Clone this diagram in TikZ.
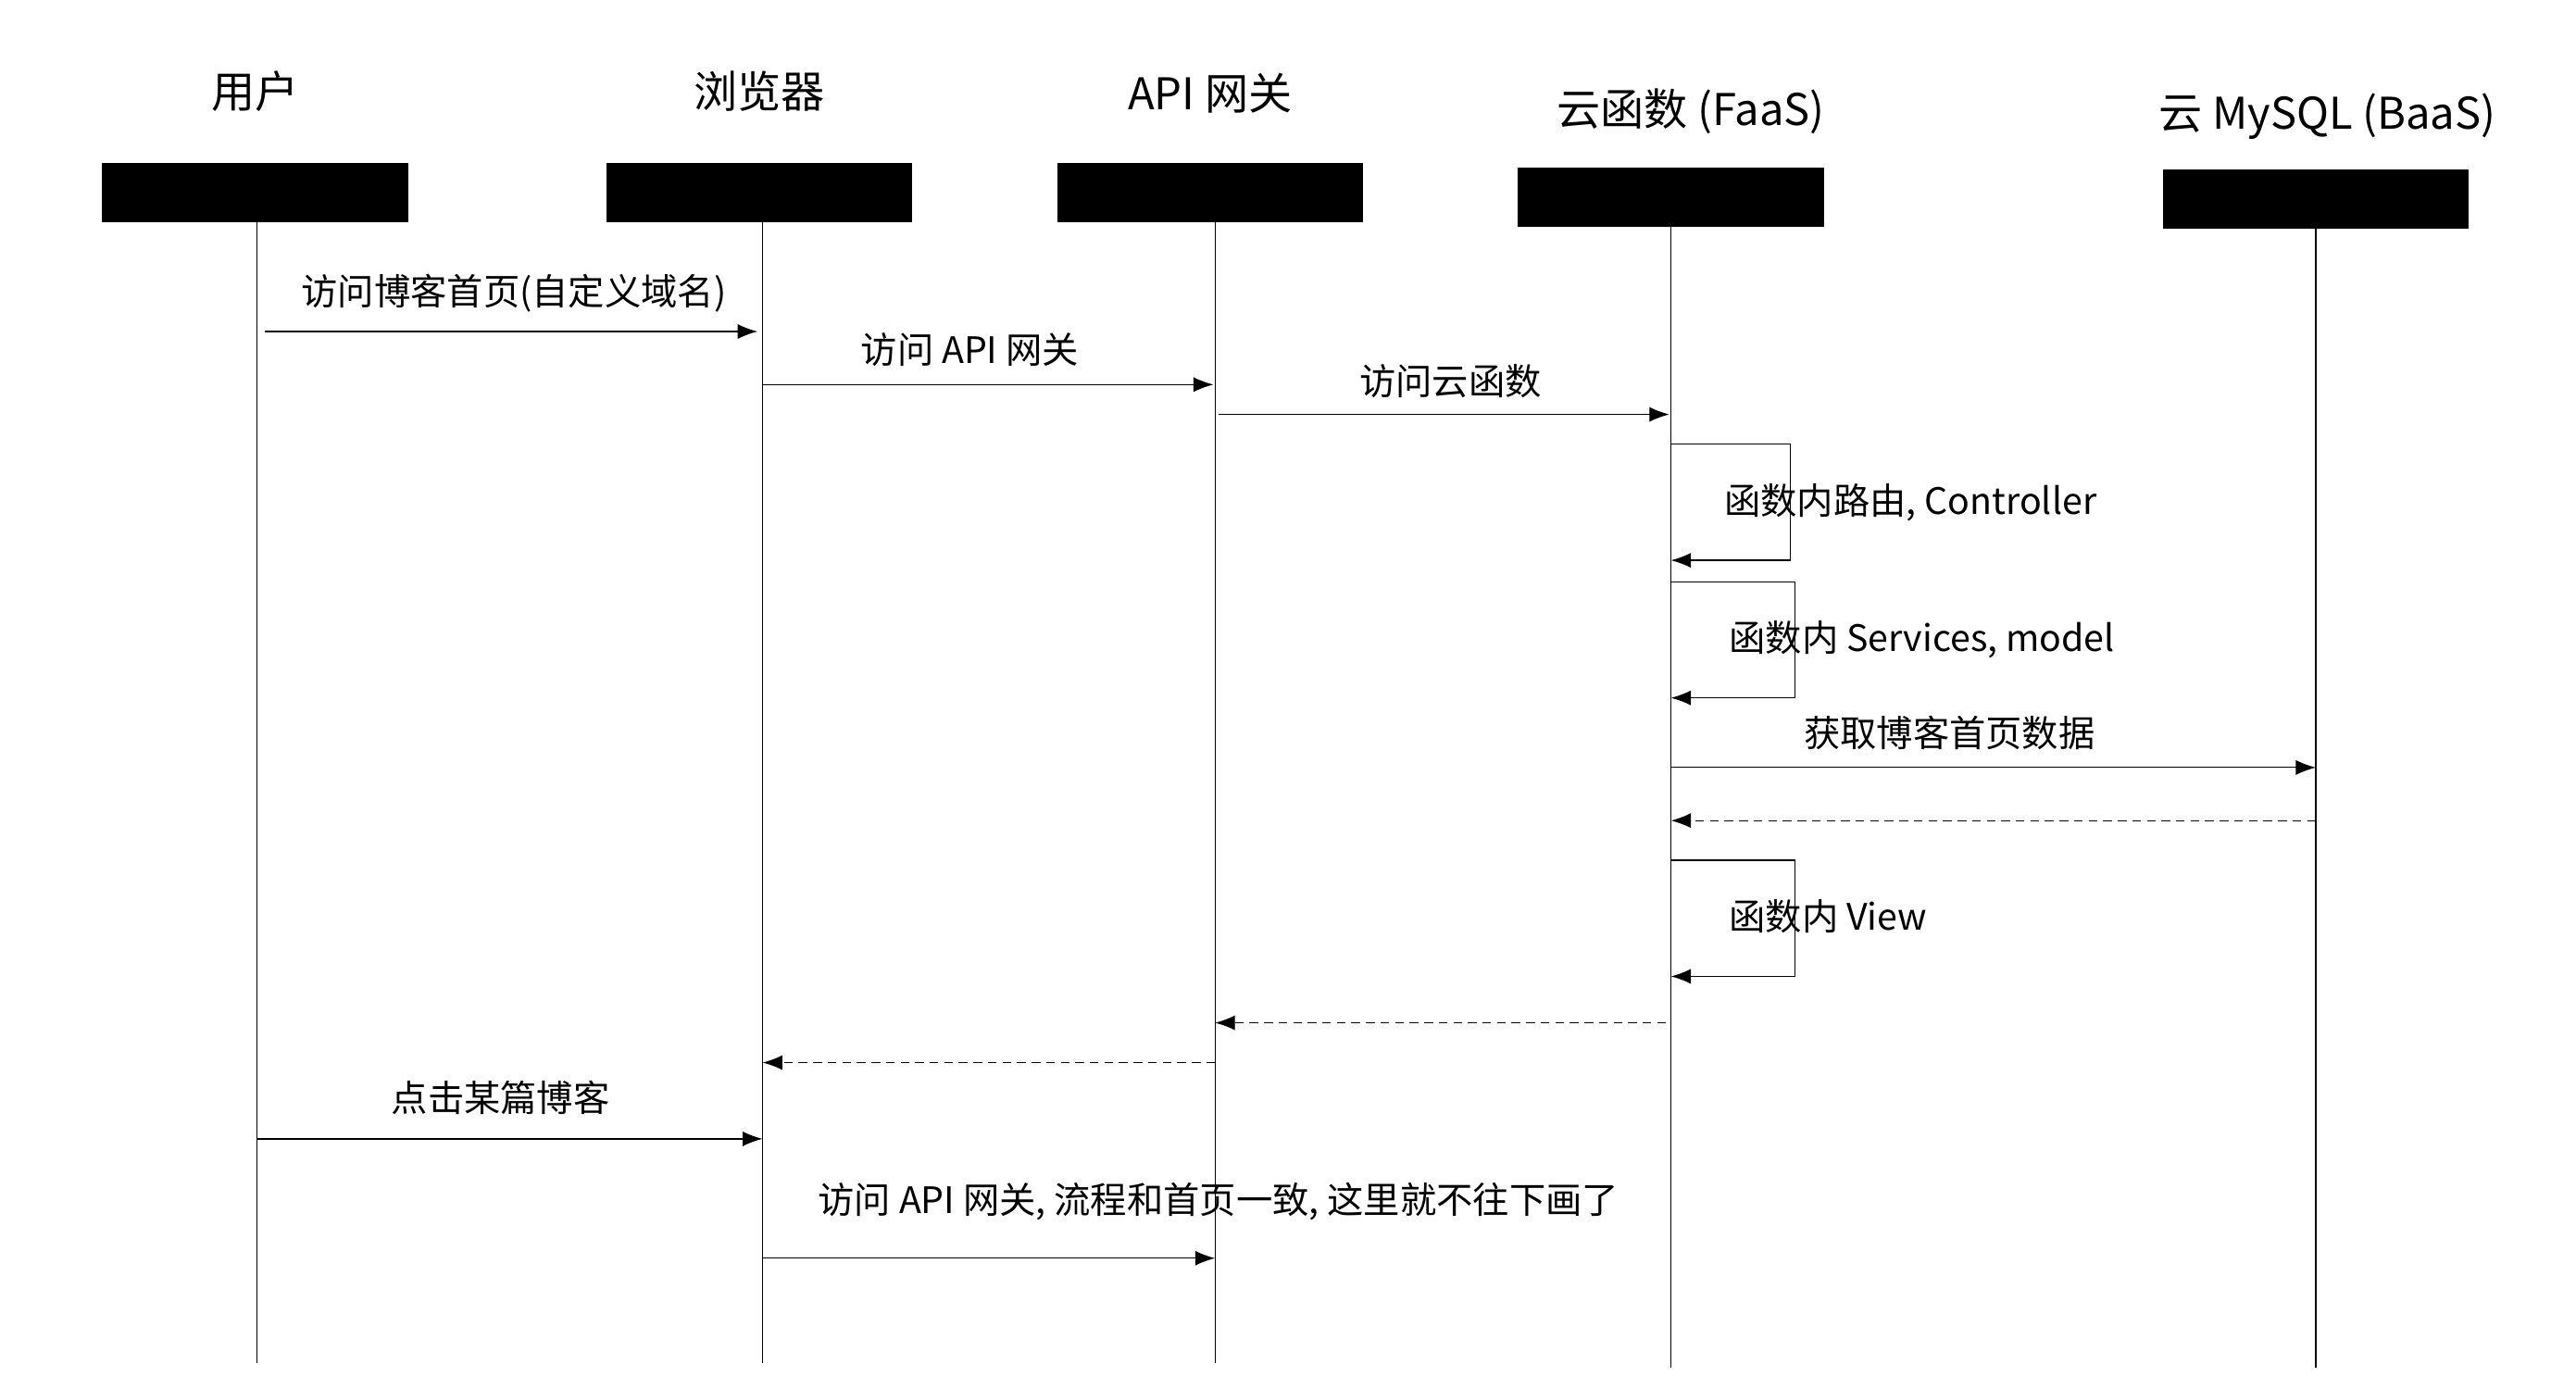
\documentclass[tikz,border=0pt]{standalone}
\usepackage{fontspec}
\setmainfont{Noto Sans CJK SC}
\usetikzlibrary{positioning,arrows.meta}
\tikzset {
    head box/.style={
        fill=black,
        draw=black,
        rectangle, % black header block
        minimum width=3.68cm,
        minimum height=0.7cm,
    },
    title/.style={
        font=\fontsize{15}{18}\selectfont,
    },
    msg/.style={
        draw=black,
        -{Latex[length=2.4mm,width=1.8mm]},
    },
    reply/.style={
        msg,
        densely dashed,
    },
    label/.style={
        font=\fontsize{12.5}{15}\selectfont,
    },
}

\begin{document}
\begin{tikzpicture}[x=0.02cm,y=-0.02cm]
\useasboundingbox (0,0) rectangle (1554,830);

% lifeline headers
\node [head box] (user) at (154,116) {};
\node [head box] (browser) at (458,116) {};
\node [head box] (gateway) at (730,116) {};
\node [head box] (faas) at (1008,119) {};
\node [head box] (mysql) at (1397,120) {};
\node [title] (tuser) at (154,55) {用户};
\node [title] (tbrowser) at (458,55) {浏览器};
\node [title] (tgateway) at (730,56) {API 网关};
\node [title] (tfaas) at (1020,67) {云函数 (FaaS)};
\node [title] (tmysql) at (1404,70) {云 MySQL (BaaS)};

% lifelines
\coordinate (euser) at (155,822);
\coordinate (ebrowser) at (460,822);
\coordinate (egateway) at (733,822);
\coordinate (efaas) at (1008,825);
\coordinate (emysql) at (1397,825);
\draw (155,133) -- (euser);
\draw (460,133) -- (ebrowser);
\draw (733,133) -- (egateway);
\draw (1008,136) -- (efaas);
\draw (1397,137) -- (emysql);

% messages
\coordinate (m1a) at (160,200); \coordinate (m1b) at (457,200);
\draw [msg] (m1a) -- (m1b);
\node [label] (l1) at (310,177) {访问博客首页(自定义域名)};
\coordinate (m2a) at (460,232); \coordinate (m2b) at (732,232);
\draw [msg] (m2a) -- (m2b);
\node [label] (l2) at (585,211) {访问 API 网关};
\coordinate (m3a) at (735,250); \coordinate (m3b) at (1007,250);
\draw [msg] (m3a) -- (m3b);
\node [label] (l3) at (875,230) {访问云函数};

\coordinate (s1a) at (1008,268); \coordinate (s1b) at (1008,338);
\draw [msg] (s1a) -- (1080,268) -- (1080,338) -- (s1b);
\node [label, anchor=west] (ls1) at (1034,303) {函数内路由, Controller};
\coordinate (s2a) at (1008,351); \coordinate (s2b) at (1008,421);
\draw [msg] (s2a) -- (1083,351) -- (1083,421) -- (s2b);
\node [label, anchor=west] (ls2) at (1037,386) {函数内 Services, model};

\coordinate (m4a) at (1008,463); \coordinate (m4b) at (1397,463);
\draw [msg] (m4a) -- (m4b);
\node [label] (l4) at (1176,442) {获取博客首页数据};
\coordinate (m5a) at (1397,495); \coordinate (m5b) at (1008,495);
\draw [reply] (m5a) -- (m5b);

\coordinate (s3a) at (1008,519); \coordinate (s3b) at (1008,589);
\draw [msg] (s3a) -- (1083,519) -- (1083,589) -- (s3b);
\node [label, anchor=west] (ls3) at (1037,553) {函数内 View};

\coordinate (m6a) at (1005,617); \coordinate (m6b) at (733,617);
\draw [reply] (m6a) -- (m6b);
\coordinate (m7a) at (733,641); \coordinate (m7b) at (460,641);
\draw [reply] (m7a) -- (m7b);

\coordinate (m8a) at (155,687); \coordinate (m8b) at (460,687);
\draw [msg] (m8a) -- (m8b);
\node [label] (l8) at (302,662) {点击某篇博客};
\coordinate (m9a) at (460,759); \coordinate (m9b) at (733,759);
\draw [msg] (m9a) -- (m9b);
\node [label] (l9) at (735,725) {访问 API 网关, 流程和首页一致, 这里就不往下画了};
\end{tikzpicture}
\end{document}
